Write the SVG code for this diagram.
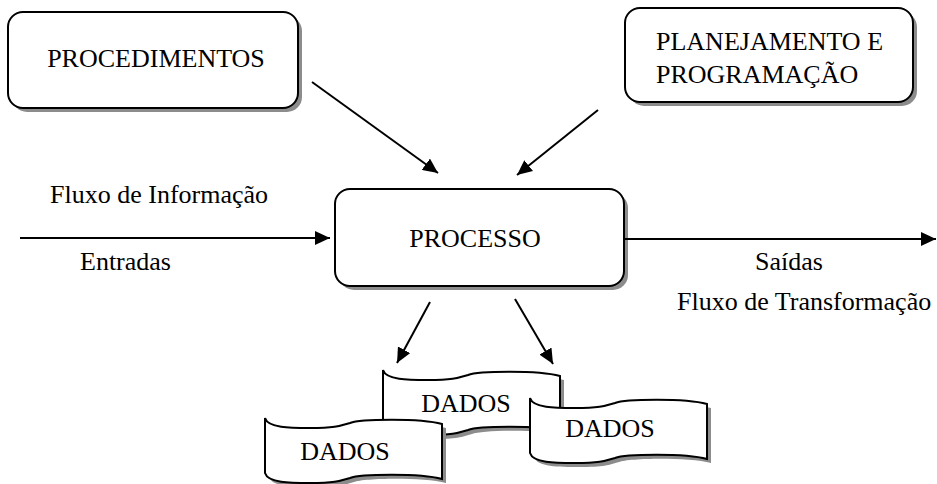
<svg xmlns="http://www.w3.org/2000/svg" xmlns:xlink="http://www.w3.org/1999/xlink" width="937" height="484" viewBox="0 0 937 484">
  <defs>
    <style>
      .box { fill: #ffffff; stroke: #000000; stroke-width: 2; }
      .shadow { fill: #8c8c8c; stroke: none; }
      .label { font-family: "Liberation Serif", "Times New Roman", serif; font-size: 26px; fill: #000000; }
      .mid { text-anchor: middle; }
      .edge { stroke: #000000; stroke-width: 2; fill: none; marker-end: url(#head); }
    </style>
    <marker id="head" markerUnits="userSpaceOnUse" markerWidth="16" markerHeight="14" refX="15" refY="7" orient="auto">
      <path d="M0,0 L15,7 L0,14 Z" fill="#000000"/>
    </marker>
    <!-- punched-tape data store outline, 177 wide, origin at top-left corner -->
    <path id="tape" d="M0,0 C3,10 25,10 45,10 C70,10 75,8 85,5 C95,1 155,0 177,6 L177,61 C155,55 95,56 85,60 C75,63 70,65 45,65 C25,65 3,65 0,55 Z"/>
  </defs>

  <rect width="937" height="484" fill="#ffffff"/>

  <g id="procedimentos">
    <rect class="shadow" x="12" y="16" width="290" height="96" rx="15"/>
    <rect class="box" x="8" y="12" width="290" height="96" rx="15"/>
    <text class="label mid" x="156" y="67">PROCEDIMENTOS</text>
  </g>

  <g id="planejamento">
    <rect class="shadow" x="629" y="12" width="288" height="94" rx="15"/>
    <rect class="box" x="625" y="8" width="288" height="94" rx="15"/>
    <text class="label" x="656" y="50">PLANEJAMENTO E</text>
    <text class="label" x="656" y="83">PROGRAMAÇÃO</text>
  </g>

  <g id="processo">
    <rect class="shadow" x="339" y="193" width="289" height="97" rx="15"/>
    <rect class="box" x="335" y="189" width="289" height="97" rx="15"/>
    <text class="label mid" x="475" y="247">PROCESSO</text>
  </g>

  <g id="dados-centro">
    <use href="#tape" xlink:href="#tape" class="shadow" x="387" y="374"/>
    <use href="#tape" xlink:href="#tape" class="box" x="383" y="370"/>
    <text class="label mid" x="466" y="412">DADOS</text>
  </g>

  <g id="dados-esquerda">
    <use href="#tape" xlink:href="#tape" class="shadow" x="269" y="422"/>
    <use href="#tape" xlink:href="#tape" class="box" x="265" y="418"/>
    <text class="label mid" x="345" y="460">DADOS</text>
  </g>

  <g id="dados-direita">
    <use href="#tape" xlink:href="#tape" class="shadow" x="534" y="402"/>
    <use href="#tape" xlink:href="#tape" class="box" x="530" y="398"/>
    <text class="label mid" x="610" y="437">DADOS</text>
  </g>

  <g id="connectors">
    <line class="edge" x1="312" y1="82" x2="438" y2="173"/>
    <line class="edge" x1="598" y1="110" x2="517" y2="175"/>
    <line class="edge" x1="430" y1="302" x2="397" y2="363"/>
    <line class="edge" x1="515" y1="299" x2="553" y2="364"/>
    <line class="edge" x1="20" y1="238" x2="330" y2="238"/>
    <line class="edge" x1="624" y1="239" x2="936" y2="239"/>
  </g>

  <g id="labels">
    <text class="label" x="50" y="203">Fluxo de Informação</text>
    <text class="label" x="80" y="270">Entradas</text>
    <text class="label" x="755" y="270">Saídas</text>
    <text class="label" x="677" y="310">Fluxo de Transformação</text>
  </g>
</svg>
